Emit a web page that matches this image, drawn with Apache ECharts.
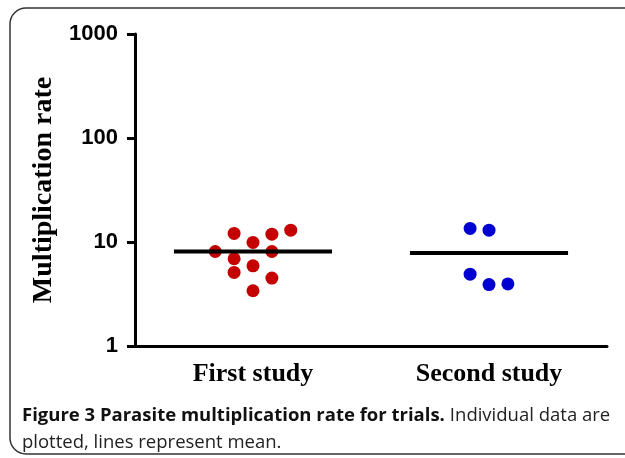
<!DOCTYPE html>
<html>
<head>
<meta charset="utf-8">
<script src="https://cdn.jsdelivr.net/npm/echarts@6/dist/echarts.min.js"></script>
<style>
  html, body { margin: 0; padding: 0; background: #fff; }
  #chart { width: 625px; height: 458px; }
</style>
</head>
<body>
<div id="chart"></div>
<script>
// Data
const categories = ["First study", "Second study"];
const yTicks = [1, 10, 100, 1000];

// first study: horizontal jitter offset (in category units) and value
const firstOffsets = [-0.16, -0.08, -0.08, -0.08, 0, 0, 0, 0.08, 0.08, 0.08, 0.16];
const firstValues = [8.1, 12.1, 6.9, 5.1, 9.9, 5.9, 3.4, 11.9, 8.1, 4.5, 13.0];

// second study
const secondOffsets = [-0.08, 0, -0.08, 0, 0.08];
const secondValues = [13.5, 13.0, 4.9, 3.9, 3.95];

const meanHalfWidth = 0.335;

function mean(arr) {
  return arr.reduce(function (a, b) { return a + b; }, 0) / arr.length;
}

function toPoints(pos, offsets, values) {
  return values.map(function (v, i) { return [pos + offsets[i], v]; });
}

function meanLine(pos, values) {
  const m = mean(values);
  return [[pos - meanHalfWidth, m], [pos + meanHalfWidth, m]];
}

let chart = echarts.init(document.getElementById("chart"));

let option = {
  backgroundColor: "#fff",
  animation: false,
  title: {
    left: 17,
    top: 397,
    text: "{b|Figure 3 Parasite multiplication rate for trials.} {n|Individual data are}\n{n|plotted, lines represent mean.}",
    textStyle: {
      rich: {
        b: { fontFamily: "Open Sans", fontWeight: "bold", fontSize: 18.5, color: "#111", lineHeight: 27 },
        n: { fontFamily: "Open Sans", fontWeight: "normal", fontSize: 18.5, color: "#222", lineHeight: 27 },
      },
    },
  },
  graphic: [
    {
      type: "rect",
      shape: { x: 10, y: 8, width: 640, height: 446, r: 16 },
      style: { fill: "none", stroke: "#333", lineWidth: 1.5 },
      silent: true,
    },
  ],
  grid: {
    left: 135,
    top: 34,
    width: 472,
    height: 312,
  },
  xAxis: [
    {
      type: "category",
      data: categories,
      boundaryGap: true,
      axisLine: { lineStyle: { color: "#000", width: 3 } },
      axisTick: { alignWithLabel: true, length: 7, lineStyle: { color: "#000", width: 3 } },
      axisLabel: {
        margin: 15,
        color: "#000",
        fontFamily: "Liberation Serif",
        fontWeight: "bold",
        fontSize: 26,
      },
    },
    {
      type: "value",
      min: 0.5,
      max: 2.5,
      show: false,
    },
  ],
  yAxis: {
    type: "log",
    logBase: 10,
    min: yTicks[0],
    max: yTicks[yTicks.length - 1],
    name: "Multiplication rate",
    nameLocation: "middle",
    nameRotate: 90,
    nameGap: 75,
    nameTextStyle: {
      color: "#000",
      fontFamily: "Liberation Serif",
      fontWeight: "bold",
      fontSize: 28,
    },
    axisLine: { show: true, lineStyle: { color: "#000", width: 3 } },
    axisTick: { show: true, length: 8, lineStyle: { color: "#000", width: 3 } },
    minorTick: { show: false },
    splitLine: { show: false },
    axisLabel: {
      margin: 17,
      color: "#000",
      fontFamily: "Liberation Sans",
      fontWeight: "bold",
      fontSize: 22,
      formatter: function (v) { return String(v); },
    },
  },
  series: [
    {
      type: "scatter",
      xAxisIndex: 1,
      symbolSize: 13,
      itemStyle: { color: "#c40000", opacity: 1 },
      data: toPoints(1, firstOffsets, firstValues),
    },
    {
      type: "scatter",
      xAxisIndex: 1,
      symbolSize: 13,
      itemStyle: { color: "#0000d0", opacity: 1 },
      data: toPoints(2, secondOffsets, secondValues),
    },
    {
      type: "line",
      xAxisIndex: 1,
      symbol: "none",
      lineStyle: { color: "#000", width: 4 },
      data: meanLine(1, firstValues),
      z: 3,
    },
    {
      type: "line",
      xAxisIndex: 1,
      symbol: "none",
      lineStyle: { color: "#000", width: 4 },
      data: meanLine(2, secondValues),
      z: 3,
    },
  ],
};

chart.setOption(option);
</script>
</body>
</html>
